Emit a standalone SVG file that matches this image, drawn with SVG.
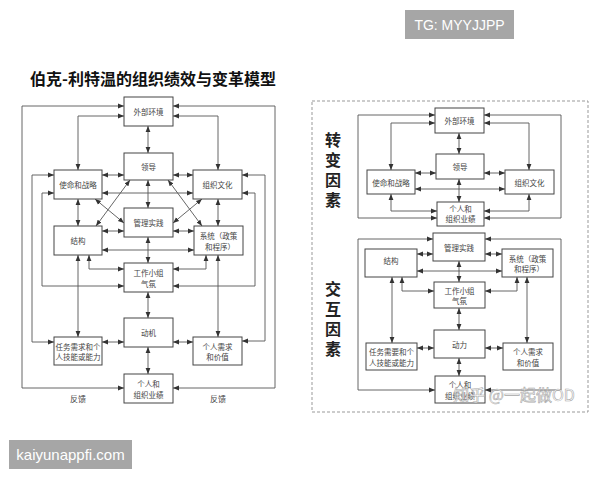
<svg xmlns="http://www.w3.org/2000/svg" width="600" height="480" viewBox="0 0 600 480">
<style>
.box{fill:#fff;stroke:#444;stroke-width:1}
.t{font-family:"Noto Sans CJK SC","Noto Sans",sans-serif;font-size:7.5px;fill:#444;text-anchor:middle;dominant-baseline:central}
.c{fill:none;stroke:#555;stroke-width:0.9;marker-start:url(#a);marker-end:url(#a)}
.lbl{font-family:"Noto Sans CJK SC","Noto Sans",sans-serif;font-size:8px;fill:#444;text-anchor:middle;dominant-baseline:central}
.v{font-family:"Noto Sans CJK SC",sans-serif;font-size:16px;font-weight:700;fill:#222;writing-mode:vertical-rl;letter-spacing:4px}
.wm{font-family:"Liberation Sans",Arial,sans-serif;fill:#fff;text-anchor:middle;dominant-baseline:central}
</style>
<defs>
<marker id="a" viewBox="0 0 10 10" refX="10" refY="5" markerWidth="6" markerHeight="6" markerUnits="userSpaceOnUse" orient="auto-start-reverse"><path d="M0,1 L10,5 L0,9z" fill="#333"/></marker>
</defs>
<rect width="600" height="480" fill="#fff"/>
<g id="tag-tg"><rect x="405" y="10" width="109" height="29" fill="#a6a6a6"/><text class="wm" x="459.5" y="24.5" font-size="14">TG: MYYJJPP</text></g>
<g id="tag-site"><rect x="9" y="440" width="123" height="29" fill="#a6a6a6"/><text class="wm" x="70.5" y="454.5" font-size="15">kaiyunappfi.com</text></g>
<text id="title" x="30" y="78" font-family="Noto Sans CJK SC,sans-serif" font-size="16" font-weight="700" fill="#111" dominant-baseline="central">伯克-利特温的组织绩效与变革模型</text>

<!-- left diagram connectors -->
<g id="connectors-left">
<path class="c" d="M124,106 H22 V388 H124"/>
<path class="c" d="M124,116 H78 V170"/>
<path class="c" d="M54,175 H32 V342 H54"/>
<path class="c" d="M54,193 H42 V286 H124"/>
<path class="c" d="M173,106 H275 V388 H173"/>
<path class="c" d="M173,116 H218 V170"/>
<path class="c" d="M242,175 H265 V341 H242"/>
<path class="c" d="M242,193 H255 V286 H173"/>
<path class="c" d="M148,126 V153"/>
<path class="c" d="M148,180 V208"/>
<path class="c" d="M148,237 V263"/>
<path class="c" d="M148,292 V318"/>
<path class="c" d="M148,347 V374"/>
<path class="c" d="M102,175 H124"/>
<path class="c" d="M173,175 H193"/>
<path class="c" d="M102,193 H193"/>
<path class="c" d="M130,180 L96,226"/>
<path class="c" d="M95,199 L124,223"/>
<path class="c" d="M168,180 L202,226"/>
<path class="c" d="M202,199 L173,223"/>
<path class="c" d="M102,231 H124"/>
<path class="c" d="M173,231 H194"/>
<path class="c" d="M102,250 H194"/>
<path class="c" d="M78,199 V226"/>
<path class="c" d="M218,199 V226"/>
<path class="c" d="M89,255 V269 H124"/>
<path class="c" d="M206,255 V269 H173"/>
<path class="c" d="M78,255 V337"/>
<path class="c" d="M218,255 V337"/>
<path class="c" d="M102,342 H124"/>
<path class="c" d="M173,342 H193"/>
</g>
<text class="lbl" x="78" y="398">反馈</text>
<text class="lbl" x="218" y="398">反馈</text>

<!-- left diagram nodes -->
<g id="L-env"><rect class="box" x="124" y="97" width="49" height="29"/><text class="t" x="148.5" y="111.5">外部环境</text></g>
<g id="L-lead"><rect class="box" x="124" y="153" width="49" height="27"/><text class="t" x="148.5" y="166.5">领导</text></g>
<g id="L-mission"><rect class="box" x="54" y="170" width="48" height="29"/><text class="t" x="78" y="184.5">使命和战略</text></g>
<g id="L-culture"><rect class="box" x="193" y="170" width="49" height="29"/><text class="t" x="217.5" y="184.5">组织文化</text></g>
<g id="L-mgmt"><rect class="box" x="124" y="208" width="49" height="29"/><text class="t" x="148.5" y="222.5">管理实践</text></g>
<g id="L-struct"><rect class="box" x="54" y="226" width="48" height="29"/><text class="t" x="78" y="240.5">结构</text></g>
<g id="L-sys"><rect class="box" x="194" y="226" width="49" height="29"/><text class="t" x="218.5" y="235.5">系统（政策</text><text class="t" x="220" y="246">和程序）</text></g>
<g id="L-climate"><rect class="box" x="124" y="263" width="49" height="29"/><text class="t" x="148.5" y="272.5">工作小组</text><text class="t" x="148.5" y="283">气氛</text></g>
<g id="L-motiv"><rect class="box" x="124" y="318" width="49" height="29"/><text class="t" x="148.5" y="332.5">动机</text></g>
<g id="L-task"><rect class="box" x="54" y="337" width="48" height="28"/><text class="t" x="78" y="346">任务需求和个</text><text class="t" x="78" y="356.5">人技能或能力</text></g>
<g id="L-needs"><rect class="box" x="193" y="337" width="49" height="28"/><text class="t" x="217.5" y="346">个人需求</text><text class="t" x="217.5" y="356.5">和价值</text></g>
<g id="L-perf"><rect class="box" x="124" y="374" width="49" height="29"/><text class="t" x="148.5" y="383.5">个人和</text><text class="t" x="148.5" y="394">组织业绩</text></g>

<!-- right panel -->
<rect id="panel" x="312" y="101" width="276" height="311" fill="none" stroke="#999" stroke-width="1" stroke-dasharray="3,2"/>
<text id="vlabel-1" class="v" x="333" y="132">转变因素</text>
<text id="vlabel-2" class="v" x="333" y="281">交互因素</text>

<g id="connectors-right">
<path class="c" d="M435,115 H358 V218 H437"/>
<path class="c" d="M484,115 H561 V218 H484"/>
<path class="c" d="M435,123 H391 V170"/>
<path class="c" d="M484,123 H529 V170"/>
<path class="c" d="M459,133 V154"/>
<path class="c" d="M459,179 V202"/>
<path class="c" d="M415,173 H436"/>
<path class="c" d="M484,173 H505"/>
<path class="c" d="M415,189 H505"/>
<path class="c" d="M391,194 V211 H437"/>
<path class="c" d="M529,194 V211 H484"/>
<path class="c" d="M433,239 H358 V390 H435"/>
<path class="c" d="M485,239 H561 V390 H485"/>
<path class="c" d="M417,254 H433"/>
<path class="c" d="M485,254 H502"/>
<path class="c" d="M417,271 H502"/>
<path class="c" d="M459,261 V282"/>
<path class="c" d="M459,308 V330"/>
<path class="c" d="M459,358 V376"/>
<path class="c" d="M402,277 V291 H434"/>
<path class="c" d="M517,277 V291 H485"/>
<path class="c" d="M392,277 V343"/>
<path class="c" d="M527,277 V343"/>
<path class="c" d="M417,348 H434"/>
<path class="c" d="M485,348 H503"/>
</g>

<g id="R-env"><rect class="box" x="435" y="108" width="49" height="25"/><text class="t" x="459.5" y="120.5">外部环境</text></g>
<g id="R-lead"><rect class="box" x="436" y="154" width="48" height="25"/><text class="t" x="460" y="166.5">领导</text></g>
<g id="R-mission"><rect class="box" x="367" y="170" width="48" height="24"/><text class="t" x="391" y="182">使命和战略</text></g>
<g id="R-culture"><rect class="box" x="505" y="170" width="49" height="24"/><text class="t" x="529.5" y="182">组织文化</text></g>
<g id="R-perf1"><rect class="box" x="437" y="202" width="47" height="24"/><text class="t" x="460.5" y="208.5">个人和</text><text class="t" x="460.5" y="218.5">组织业绩</text></g>
<g id="R-mgmt"><rect class="box" x="433" y="233" width="52" height="28"/><text class="t" x="459" y="247">管理实践</text></g>
<g id="R-struct"><rect class="box" x="365" y="249" width="52" height="28"/><text class="t" x="391" y="260">结构</text></g>
<g id="R-sys"><rect class="box" x="502" y="249" width="51" height="28"/><text class="t" x="527.5" y="258">系统（政策</text><text class="t" x="529" y="268">和程序）</text></g>
<g id="R-climate"><rect class="box" x="434" y="282" width="51" height="26"/><text class="t" x="459.5" y="290">工作小组</text><text class="t" x="459.5" y="300.5">气氛</text></g>
<g id="R-power"><rect class="box" x="434" y="330" width="51" height="28"/><text class="t" x="459.5" y="344">动力</text></g>
<g id="R-task"><rect class="box" x="366" y="343" width="51" height="27"/><text class="t" x="391.5" y="351.5">任务需要和个</text><text class="t" x="391.5" y="362">人技能或能力</text></g>
<g id="R-needs"><rect class="box" x="503" y="343" width="50" height="27"/><text class="t" x="528" y="351.5">个人需求</text><text class="t" x="528" y="362">和价值</text></g>
<g id="R-perf2"><rect class="box" x="435" y="376" width="50" height="27"/><text class="t" x="460" y="384">个人和</text><text class="t" x="460" y="395">组织业绩</text></g>
<text id="watermark" x="514" y="394" font-family="Noto Sans CJK SC,sans-serif" font-size="16" fill="#fff" stroke="#999" stroke-width="0.6" opacity="0.85" text-anchor="middle" dominant-baseline="central">知乎 @一起做OD</text>
</svg>
